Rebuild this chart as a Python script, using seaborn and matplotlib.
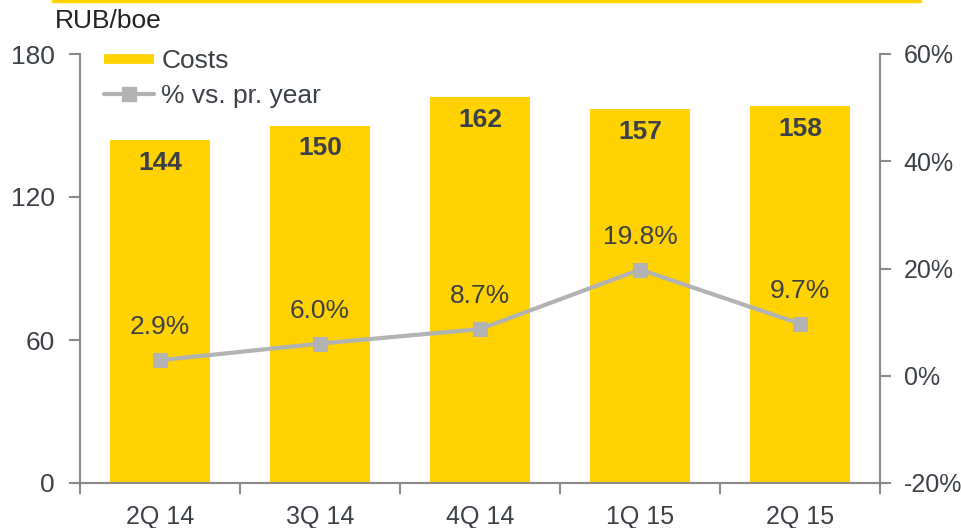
import matplotlib
matplotlib.use("Agg")
import matplotlib.pyplot as plt
import seaborn as sns
import pandas as pd
import numpy as np
from matplotlib.lines import Line2D
from matplotlib.ticker import FixedLocator, PercentFormatter

categories = ["2Q 14", "3Q 14", "4Q 14", "1Q 15", "2Q 15"]
costs = [144, 150, 162, 157, 158]
pct_vs_prev = [2.9, 6.0, 8.7, 19.8, 9.7]
left_ticks = [0, 60, 120, 180]
right_ticks = [-20, 0, 20, 40, 60]

sns.set_theme(style="white")
plt.rcParams["font.family"] = ["Liberation Sans", "DejaVu Sans"]
plt.rcParams["axes.unicode_minus"] = False

TXT = "#3c4147"
YEL = "#FFD200"
GRY = "#b3b3b3"
SPN = "#8a8a8a"
FS = 19

df = pd.DataFrame({"cat": categories, "costs": costs, "pct": pct_vs_prev})
df["x"] = np.arange(len(categories))

fig = plt.figure(figsize=(9.62, 5.28), dpi=100)
ax = fig.add_axes([80 / 962, 45 / 528, 800 / 962, 429 / 528])

sns.barplot(data=df, x="cat", y="costs", color=YEL, width=0.625, ax=ax,
            saturation=1, edgecolor="none")
ax.set_xlim(-0.5, len(categories) - 0.5)
ax.set_ylim(0, 180)
ax.set_yticks(left_ticks)
ax.set_xlabel("")
ax.set_ylabel("")

for i, v in enumerate(costs):
    ax.text(i, v - 4.5, f"{v}", ha="center", va="top", fontsize=FS,
            fontweight="bold", color=TXT)

for s in ["top", "right"]:
    ax.spines[s].set_visible(False)
for s in ["left", "bottom"]:
    ax.spines[s].set_color(SPN)
    ax.spines[s].set_linewidth(1.5)

ax.tick_params(axis="y", which="major", direction="out", length=8, width=1.5,
               color=SPN, labelsize=FS, labelcolor=TXT, left=True, pad=10)
ax.xaxis.set_minor_locator(FixedLocator(np.arange(-0.5, len(categories), 1.0)))
ax.tick_params(axis="x", which="major", length=0, labelsize=18,
               labelcolor=TXT, pad=16, bottom=True)
ax.tick_params(axis="x", which="minor", direction="out", length=8, width=1.5,
               color=SPN, bottom=True)

ax2 = ax.twinx()
sns.lineplot(data=df, x="x", y="pct", ax=ax2, color=GRY, linewidth=3,
             marker="s", markersize=10, markeredgecolor=GRY, markerfacecolor=GRY)
ax2.set_ylim(-20, 60)
ax2.set_yticks(right_ticks)
ax2.yaxis.set_major_formatter(PercentFormatter(decimals=0))
ax2.set_xlabel("")
ax2.set_ylabel("")
for s in ["top", "left", "bottom"]:
    ax2.spines[s].set_visible(False)
ax2.spines["right"].set_color(SPN)
ax2.spines["right"].set_linewidth(1.5)
ax2.tick_params(axis="y", direction="out", length=8, width=1.5, color=SPN,
                labelsize=18, labelcolor=TXT, right=True, pad=9)
ax2.set_xlim(-0.5, len(categories) - 0.5)

for i, p in enumerate(pct_vs_prev):
    ax2.annotate(f"{p:.1f}%", (i, p), xytext=(0, 15), textcoords="offset points",
                 ha="center", va="bottom", fontsize=FS, color=TXT)

handles = [Line2D([0], [0], color=YEL, linewidth=7, solid_capstyle="butt"),
           Line2D([0], [0], color=GRY, linewidth=3, marker="s", markersize=10,
                  solid_capstyle="round")]
fig.legend(handles, ["Costs", "% vs. pr. year"], loc="upper left",
           bbox_to_anchor=(104 / 962, 1 - 49 / 528), frameon=False, fontsize=FS,
           labelcolor=TXT, handlelength=1.9, handletextpad=0.27,
           labelspacing=0.42, borderpad=0, borderaxespad=0)

fig.text(55 / 962, 1 - 21 / 528, "RUB/boe", fontsize=FS, color="#222222",
         ha="left", va="center")
fig.add_artist(Line2D([53 / 962, 920 / 962], [1 - 1 / 528, 1 - 1 / 528],
                      color=YEL, linewidth=2.5, transform=fig.transFigure))

fig.savefig("out.png", dpi=100)
